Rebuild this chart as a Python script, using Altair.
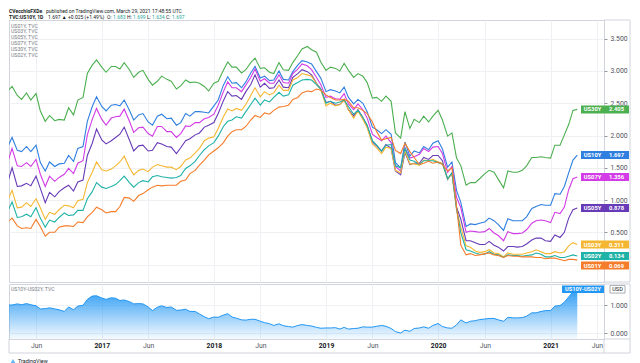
import altair as alt
import pandas as pd

# ---------------- data (semi-monthly readings, Mar 2016 .. Mar 29 2021) ----------------
DATES = list(pd.date_range("2016-03-01", "2021-03-15", freq="SMS").strftime("%Y-%m-%d")) + ["2021-03-29"]

US01Y = [
    0.66, 0.72, 0.60, 0.56, 0.57, 0.56, 0.70, 0.59, 0.44, 0.50, 0.50, 0.58, 0.60, 0.60, 0.59, 0.66, 0.65, 0.74, 0.81, 0.89,
    0.85, 0.80, 0.82, 0.82, 0.90, 1.04, 1.03, 0.98, 1.07, 1.10, 1.16, 1.20, 1.23, 1.22, 1.23, 1.23, 1.23, 1.29, 1.31, 1.41, 1.46, 1.54, 1.62, 1.70,
    1.76, 1.81, 1.89, 1.99, 2.06, 2.09, 2.09, 2.14, 2.24, 2.31, 2.28, 2.35, 2.33, 2.39, 2.44, 2.45, 2.47, 2.56, 2.59, 2.66, 2.69, 2.68, 2.72, 2.70,
    2.63, 2.59, 2.55, 2.55, 2.56, 2.53, 2.43, 2.43, 2.39, 2.34, 2.21, 2.06, 1.93, 1.95, 1.97, 1.77, 1.72, 1.88, 1.75, 1.66, 1.55, 1.57, 1.60, 1.57,
    1.59, 1.55, 1.45, 1.50, 0.90, 0.30, 0.15, 0.17, 0.14, 0.15, 0.17, 0.18, 0.15, 0.14, 0.11, 0.14, 0.13, 0.13, 0.12, 0.12, 0.12, 0.11, 0.11, 0.09,
    0.10, 0.10, 0.08, 0.06, 0.08, 0.08, 0.069]
US02Y = [
    0.83, 0.97, 0.73, 0.74, 0.78, 0.74, 0.88, 0.72, 0.58, 0.69, 0.66, 0.73, 0.80, 0.76, 0.77, 0.84, 0.84, 1.02, 1.13, 1.27,
    1.20, 1.18, 1.21, 1.24, 1.30, 1.37, 1.27, 1.20, 1.27, 1.30, 1.28, 1.36, 1.38, 1.36, 1.35, 1.34, 1.35, 1.38, 1.49, 1.53, 1.60, 1.69, 1.78, 1.84,
    1.89, 1.99, 2.14, 2.22, 2.24, 2.29, 2.27, 2.37, 2.48, 2.58, 2.47, 2.55, 2.52, 2.59, 2.67, 2.61, 2.63, 2.78, 2.82, 2.86, 2.87, 2.86, 2.79, 2.72,
    2.50, 2.53, 2.50, 2.52, 2.55, 2.45, 2.33, 2.39, 2.28, 2.16, 1.92, 1.85, 1.76, 1.85, 1.86, 1.53, 1.50, 1.80, 1.62, 1.60, 1.55, 1.61, 1.61, 1.61,
    1.58, 1.56, 1.33, 1.42, 0.86, 0.49, 0.23, 0.21, 0.18, 0.16, 0.16, 0.20, 0.16, 0.15, 0.11, 0.15, 0.14, 0.14, 0.13, 0.14, 0.15, 0.18, 0.16, 0.12,
    0.12, 0.14, 0.11, 0.11, 0.13, 0.15, 0.134]
US03Y = [
    1.00, 1.15, 0.88, 0.89, 0.96, 0.90, 1.02, 0.88, 0.70, 0.81, 0.78, 0.85, 0.92, 0.91, 0.88, 0.99, 1.01, 1.27, 1.43, 1.59,
    1.47, 1.45, 1.48, 1.53, 1.59, 1.68, 1.50, 1.39, 1.46, 1.48, 1.44, 1.51, 1.55, 1.53, 1.51, 1.51, 1.47, 1.52, 1.62, 1.65, 1.73, 1.80, 1.92, 1.96,
    1.98, 2.11, 2.29, 2.41, 2.38, 2.42, 2.39, 2.48, 2.62, 2.74, 2.60, 2.68, 2.63, 2.66, 2.78, 2.70, 2.70, 2.86, 2.90, 2.96, 2.94, 2.92, 2.80, 2.71,
    2.46, 2.50, 2.46, 2.48, 2.55, 2.40, 2.27, 2.38, 2.25, 2.12, 1.87, 1.81, 1.72, 1.82, 1.80, 1.46, 1.42, 1.76, 1.56, 1.56, 1.54, 1.62, 1.61, 1.63,
    1.59, 1.57, 1.32, 1.41, 0.85, 0.58, 0.29, 0.27, 0.21, 0.19, 0.20, 0.23, 0.18, 0.17, 0.12, 0.18, 0.16, 0.16, 0.16, 0.18, 0.20, 0.23, 0.20, 0.17,
    0.17, 0.20, 0.18, 0.20, 0.29, 0.34, 0.311]
US05Y = [
    1.28, 1.50, 1.21, 1.22, 1.26, 1.22, 1.37, 1.18, 0.96, 1.12, 1.05, 1.13, 1.19, 1.23, 1.14, 1.28, 1.31, 1.69, 1.88, 2.10,
    1.93, 1.87, 1.92, 1.97, 2.02, 2.13, 1.93, 1.76, 1.84, 1.85, 1.76, 1.77, 1.89, 1.87, 1.83, 1.82, 1.72, 1.81, 1.92, 1.95, 2.01, 2.04, 2.13, 2.16,
    2.20, 2.34, 2.54, 2.68, 2.61, 2.62, 2.56, 2.68, 2.79, 2.94, 2.75, 2.81, 2.73, 2.74, 2.86, 2.75, 2.74, 2.90, 2.96, 3.02, 2.99, 2.94, 2.81, 2.72,
    2.51, 2.53, 2.47, 2.48, 2.56, 2.40, 2.30, 2.40, 2.28, 2.15, 1.90, 1.84, 1.76, 1.86, 1.80, 1.45, 1.39, 1.74, 1.55, 1.57, 1.57, 1.66, 1.63, 1.69,
    1.69, 1.61, 1.32, 1.42, 0.89, 0.70, 0.37, 0.37, 0.34, 0.31, 0.31, 0.36, 0.30, 0.27, 0.21, 0.28, 0.28, 0.27, 0.28, 0.32, 0.38, 0.41, 0.41, 0.37,
    0.36, 0.46, 0.42, 0.50, 0.72, 0.85, 0.878]
US07Y = [
    1.59, 1.80, 1.53, 1.52, 1.58, 1.52, 1.63, 1.40, 1.21, 1.37, 1.29, 1.35, 1.40, 1.49, 1.41, 1.57, 1.61, 2.01, 2.25, 2.42,
    2.25, 2.16, 2.27, 2.29, 2.30, 2.41, 2.22, 2.05, 2.12, 2.13, 2.03, 1.99, 2.14, 2.14, 2.06, 2.06, 1.97, 2.03, 2.15, 2.14, 2.20, 2.20, 2.26, 2.28,
    2.33, 2.47, 2.68, 2.83, 2.74, 2.74, 2.68, 2.78, 2.90, 3.03, 2.84, 2.88, 2.81, 2.81, 2.94, 2.82, 2.81, 2.96, 3.03, 3.11, 3.08, 3.02, 2.90, 2.79,
    2.59, 2.61, 2.57, 2.56, 2.65, 2.49, 2.40, 2.49, 2.40, 2.27, 2.02, 1.97, 1.92, 1.99, 1.89, 1.52, 1.45, 1.81, 1.65, 1.67, 1.71, 1.80, 1.75, 1.82,
    1.83, 1.72, 1.43, 1.52, 1.04, 0.88, 0.50, 0.52, 0.51, 0.50, 0.51, 0.56, 0.49, 0.45, 0.37, 0.51, 0.48, 0.48, 0.49, 0.54, 0.64, 0.68, 0.69, 0.68,
    0.65, 0.81, 0.79, 0.89, 1.16, 1.33, 1.356]
US10Y = [
    1.83, 1.97, 1.77, 1.75, 1.83, 1.75, 1.85, 1.58, 1.45, 1.59, 1.52, 1.56, 1.57, 1.69, 1.60, 1.80, 1.83, 2.22, 2.45, 2.60,
    2.45, 2.38, 2.47, 2.48, 2.46, 2.55, 2.39, 2.24, 2.32, 2.34, 2.21, 2.16, 2.30, 2.33, 2.26, 2.27, 2.16, 2.20, 2.34, 2.30, 2.37, 2.37, 2.36, 2.35,
    2.46, 2.55, 2.78, 2.91, 2.81, 2.82, 2.74, 2.83, 2.97, 3.07, 2.89, 2.92, 2.85, 2.86, 3.00, 2.87, 2.86, 2.99, 3.09, 3.16, 3.14, 3.11, 2.99, 2.89,
    2.68, 2.71, 2.69, 2.66, 2.75, 2.59, 2.49, 2.56, 2.50, 2.37, 2.13, 2.09, 2.03, 2.09, 2.02, 1.58, 1.50, 1.90, 1.68, 1.76, 1.73, 1.83, 1.78, 1.88,
    1.92, 1.79, 1.51, 1.59, 1.15, 0.96, 0.59, 0.63, 0.62, 0.64, 0.66, 0.72, 0.68, 0.62, 0.53, 0.71, 0.68, 0.68, 0.68, 0.74, 0.87, 0.90, 0.93, 0.92,
    0.92, 1.10, 1.09, 1.21, 1.42, 1.62, 1.697]
US30Y = [
    2.69, 2.76, 2.62, 2.56, 2.66, 2.55, 2.65, 2.38, 2.22, 2.31, 2.23, 2.25, 2.24, 2.43, 2.32, 2.55, 2.59, 2.96, 3.09, 3.17,
    3.06, 2.98, 3.07, 3.07, 3.03, 3.13, 3.02, 2.90, 2.98, 3.01, 2.87, 2.78, 2.84, 2.92, 2.87, 2.84, 2.72, 2.77, 2.86, 2.82, 2.83, 2.81, 2.76, 2.69,
    2.81, 2.84, 3.01, 3.14, 3.06, 3.06, 2.97, 3.02, 3.13, 3.20, 3.04, 3.05, 2.98, 2.96, 3.13, 3.02, 3.01, 3.13, 3.24, 3.34, 3.38, 3.33, 3.29, 3.14,
    3.01, 3.06, 3.04, 3.00, 3.12, 3.01, 2.90, 2.96, 2.92, 2.82, 2.58, 2.59, 2.53, 2.61, 2.53, 2.04, 1.96, 2.37, 2.11, 2.25, 2.20, 2.30, 2.21, 2.30,
    2.39, 2.24, 1.99, 2.04, 1.65, 1.53, 1.23, 1.27, 1.27, 1.33, 1.41, 1.46, 1.43, 1.32, 1.19, 1.45, 1.43, 1.43, 1.46, 1.53, 1.66, 1.66, 1.67, 1.66,
    1.65, 1.85, 1.85, 2.01, 2.17, 2.39, 2.405]

SERIES = ["US30Y", "US10Y", "US07Y", "US05Y", "US03Y", "US02Y", "US01Y"]
VALUES = {"US30Y": US30Y, "US10Y": US10Y, "US07Y": US07Y, "US05Y": US05Y,
          "US03Y": US03Y, "US02Y": US02Y, "US01Y": US01Y}
LEGEND = ["US01Y, TVC", "US03Y, TVC", "US05Y, TVC", "US07Y, TVC", "US30Y, TVC", "US02Y, TVC"]
TICK_MONTHS = [(2016, 6), (2017, 1), (2017, 6), (2018, 1), (2018, 6), (2019, 1), (2019, 6),
               (2020, 1), (2020, 6), (2021, 1), (2021, 6)]

for s in SERIES:
    assert len(VALUES[s]) == len(DATES), (s, len(VALUES[s]), len(DATES))

# ---------------- style ----------------
COLORS = {"US30Y": "#4caf50", "US10Y": "#2f7fe0", "US07Y": "#d23be6", "US05Y": "#673ab7",
          "US03Y": "#f5b731", "US02Y": "#1fb2a6", "US01Y": "#f57c2a"}
DRAW_ORDER = ["US10Y", "US30Y", "US07Y", "US05Y", "US03Y", "US02Y", "US01Y"]
NUDGE = {"US01Y": 5.5}
FONT = "Roboto"
GRID = "#eef0f4"
FRAME = "#d1d4dc"
DARK = "#131722"
TEAL = "#26a69a"
W, H1, H2 = 595, 262, 55
Y1 = [-0.27, 3.79]
Y2 = [-0.214, 1.75]
PPU1 = H1 / (Y1[1] - Y1[0])
PPU2 = H2 / (Y2[1] - Y2[0])
RIGHT = 621
BOTTOM = 69

df = pd.DataFrame([{"date": d, "series": s, "value": v}
                   for s in SERIES for d, v in zip(DATES, VALUES[s])])
spread_df = pd.DataFrame({"date": DATES, "spread": [round(a - b, 3) for a, b in zip(US10Y, US02Y)]})
DUMMY = pd.DataFrame({"k": [0]})

x_scale = alt.Scale(type="utc", domain=[alt.DateTime(year=2016, month=3, date=5, utc=True),
                                        alt.DateTime(year=2021, month=6, date=24, utc=True)])
TICKS = [alt.DateTime(year=y, month=m, date=1, utc=True) for y, m in TICK_MONTHS]
x_axis_top = alt.Axis(values=TICKS, grid=True, gridColor=GRID, labels=False, ticks=False,
                      domain=False, title=None)
x_axis_bot = alt.Axis(values=TICKS, grid=True, gridColor=GRID, ticks=False, domain=False, title=None,
                      labelExpr="utcmonth(datum.value) == 0 ? utcFormat(datum.value, '%Y') : 'Jun'",
                      labelFontSize=6.8, labelPadding=3, labelFont=FONT, labelFlush=False,
                      labelFontWeight={"condition": {"test": "utcmonth(datum.value) == 0", "value": "bold"},
                                       "value": "normal"},
                      labelColor={"condition": {"test": "utcmonth(datum.value) == 0", "value": DARK},
                                  "value": "#50535e"})
y_scale_top = alt.Scale(domain=Y1, nice=False, zero=False)
# the 0.000 label sits under the US01Y/US02Y tags, as in the reference, so it is left blank
y_axis_top = alt.Axis(orient="right", values=[0, 0.5, 1, 1.5, 2, 2.5, 3, 3.5],
                      labelExpr="datum.value == 0 ? '' : format(datum.value, '.3f')",
                      grid=True, gridColor=GRID, tickSize=3, tickColor="#9598a1", labelFontSize=6.8,
                      labelColor="#50535e", labelPadding=3, domain=False, title=None, labelFont=FONT)
y_scale_bot = alt.Scale(domain=Y2, nice=False, zero=False)
y_axis_bot = alt.Axis(orient="right", values=[0, 1], format=".3f", grid=True, gridColor=GRID,
                      tickSize=3, tickColor="#9598a1", labelFontSize=6.8, labelColor="#50535e",
                      labelPadding=3, domain=False, title=None, labelFont=FONT)


def txt(x, y, s, size=5.0, color=DARK, weight="normal", align="left"):
    return alt.Chart(DUMMY).mark_text(fontSize=size, color=color, fontWeight=weight, align=align,
                                      baseline="middle", font=FONT).encode(
        x=alt.value(x), y=alt.value(y), text=alt.value(s))


def hrule(y, x1, x2):
    return alt.Chart(DUMMY).mark_rule(color=FRAME, strokeWidth=1).encode(
        x=alt.value(x1), x2=alt.value(x2), y=alt.value(y))


def vrule(x, y1, y2):
    return alt.Chart(DUMMY).mark_rule(color=FRAME, strokeWidth=1).encode(
        x=alt.value(x), y=alt.value(y1), y2=alt.value(y2))


# ---------------- top panel ----------------
lines = [alt.Chart(df[df.series == s]).mark_line(color=COLORS[s], strokeWidth=1.1, clip=True).encode(
    x=alt.X("date:T", scale=x_scale, axis=x_axis_top),
    y=alt.Y("value:Q", scale=y_scale_top, axis=y_axis_top)) for s in DRAW_ORDER]

tag_df = pd.DataFrame({"series": SERIES,
                       "value": [VALUES[s][-1] for s in SERIES],
                       "color": [COLORS[s] for s in SERIES]})
tag_df["yc"] = tag_df["value"] - tag_df["series"].map(lambda s: NUDGE.get(s, 0.0)) / PPU1
tag_df["lo"] = tag_df["yc"] - 4.0 / PPU1
tag_df["hi"] = tag_df["yc"] + 4.0 / PPU1
tag_df["label"] = tag_df["value"].map(lambda v: f"{v:.3f}")

tag_rect = alt.Chart(tag_df).mark_rect().encode(
    x=alt.value(572), x2=alt.value(620),
    y=alt.Y("hi:Q", scale=y_scale_top, axis=y_axis_top), y2="lo:Q",
    color=alt.Color("color:N", scale=None))
tag_name = alt.Chart(tag_df).mark_text(color="white", fontSize=5.8, fontWeight="bold", font=FONT,
                                       align="center", baseline="middle").encode(
    x=alt.value(583.5), y=alt.Y("yc:Q", scale=y_scale_top, axis=y_axis_top), text="series:N")
tag_val = alt.Chart(tag_df).mark_text(color="white", fontSize=5.8, fontWeight="bold", font=FONT,
                                      align="center", baseline="middle").encode(
    x=alt.value(607.5), y=alt.Y("yc:Q", scale=y_scale_top, axis=y_axis_top), text="label:N")

legend_top = [txt(2, 5.6 + 5.8 * i, s, size=5.2, color="#787b86") for i, s in enumerate(LEGEND)]

header = [
    txt(0, -9, "CVecchioFXDe", weight="bold"),
    txt(37, -9, "published on TradingView.com, March 29, 2021 17:48:55 UTC"),
    txt(0, -3, "TVC:US10Y, 1D", weight="bold"),
    txt(39, -3, "1.697 \u25b2 +0.025 (+1.49%)"),
    txt(98, -3, "O:"), txt(104, -3, "1.683", color=TEAL),
    txt(118, -3, "H:"), txt(124, -3, "1.699", color=TEAL),
    txt(138, -3, "L:"), txt(143, -3, "1.634", color=TEAL),
    txt(157, -3, "C:"), txt(163, -3, "1.697", color=TEAL),
]

frame_top = [vrule(RIGHT, 0, H1), hrule(0, W, RIGHT), hrule(H1, W, RIGHT)]

top = alt.layer(*lines, tag_rect, tag_name, tag_val, *legend_top, *header, *frame_top).properties(
    width=W, height=H1)

# ---------------- bottom panel ----------------
area_fill = alt.Gradient(gradient="linear",
                         stops=[alt.GradientStop(color="rgba(33,150,243,0.95)", offset=0),
                                alt.GradientStop(color="rgba(33,150,243,0.04)", offset=1)],
                         x1=1, x2=1, y1=0, y2=1)
area = alt.Chart(spread_df).mark_area(color=area_fill, clip=True).encode(
    x=alt.X("date:T", scale=x_scale, axis=x_axis_bot),
    y=alt.Y("spread:Q", scale=y_scale_bot, axis=y_axis_bot),
    y2=alt.datum(Y2[0]))
sline = alt.Chart(spread_df).mark_line(color="#2196f3", strokeWidth=1, clip=True).encode(
    x=alt.X("date:T", scale=x_scale, axis=x_axis_bot),
    y=alt.Y("spread:Q", scale=y_scale_bot, axis=y_axis_bot))

last_spread = round(US10Y[-1] - US02Y[-1], 3)
btag_df = pd.DataFrame({"lo": [last_spread - 3.8 / PPU2], "hi": [last_spread + 3.8 / PPU2],
                        "yc": [last_spread]})
btag_rect = alt.Chart(btag_df).mark_rect(color="#2196f3").encode(
    x=alt.value(553), x2=alt.value(595),
    y=alt.Y("hi:Q", scale=y_scale_bot, axis=y_axis_bot), y2="lo:Q")
btag_text = alt.Chart(btag_df).mark_text(color="white", fontSize=5.6, fontWeight="bold", font=FONT,
                                         align="center", baseline="middle").encode(
    x=alt.value(574), y=alt.Y("yc:Q", scale=y_scale_bot, axis=y_axis_bot), text=alt.value("US10Y-US02Y"))
usd_rect = alt.Chart(btag_df).mark_rect(color="white", stroke="#9598a1", strokeWidth=0.8).encode(
    x=alt.value(601), x2=alt.value(616),
    y=alt.Y("hi:Q", scale=y_scale_bot, axis=y_axis_bot), y2="lo:Q")
usd_text = alt.Chart(btag_df).mark_text(color=DARK, fontSize=5.6, font=FONT,
                                        align="center", baseline="middle").encode(
    x=alt.value(608.5), y=alt.Y("yc:Q", scale=y_scale_bot, axis=y_axis_bot), text=alt.value("USD"))

legend_bot = txt(2, 5, "US10Y-US02Y, TVC", size=5.2, color="#787b86")
logo_mark = alt.Chart(DUMMY).mark_point(shape="triangle-up", filled=True, color="#2196f3", size=22).encode(
    x=alt.value(4), y=alt.value(77))
logo_text = txt(9, 77, "TradingView", size=5.4, color=DARK)

frame_bot = [vrule(RIGHT, 0, BOTTOM), hrule(BOTTOM, 0, RIGHT), vrule(0, H2, BOTTOM),
             vrule(W, H2, BOTTOM), hrule(0, W, RIGHT), hrule(H2, W, RIGHT)]

bottom = alt.layer(area, sline, btag_rect, btag_text, usd_rect, usd_text, legend_bot,
                   logo_mark, logo_text, *frame_bot).properties(width=W, height=H2)

chart = alt.vconcat(top, bottom, spacing=0).properties(
    padding=0, background="white"
).configure_view(stroke=FRAME, strokeWidth=1)

chart.save("out.html", embed_options={"renderer": "svg", "actions": False})
